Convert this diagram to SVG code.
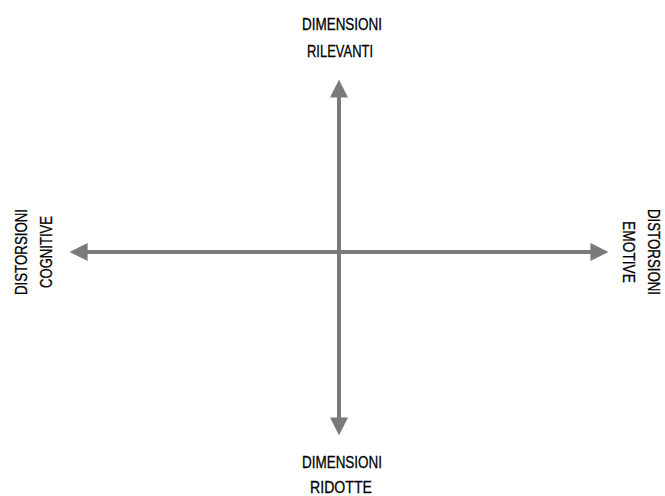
<svg xmlns="http://www.w3.org/2000/svg" width="665" height="496" viewBox="0 0 665 496">
<defs>
<style>
.ax{stroke:#7a7a7a;stroke-width:4;fill:none}
.lb{font-family:"Liberation Sans",Arial,sans-serif;font-size:17px;fill:#000;stroke:#000;stroke-width:0.3;text-anchor:middle}
</style>
<marker id="ah" viewBox="0 0 10 10" refX="2" refY="5" markerWidth="4.5" markerHeight="4.5" orient="auto" markerUnits="strokeWidth">
<path d="M0,0 L10,5 L0,10 Z" fill="#7a7a7a"/>
</marker>
</defs>
<rect width="665" height="496" fill="#fff"/>
<g id="connectors">
<line class="ax" x1="339" y1="252" x2="339" y2="94" marker-end="url(#ah)"/>
<line class="ax" x1="339" y1="252" x2="339" y2="421" marker-end="url(#ah)"/>
<line class="ax" x1="339" y1="252" x2="84" y2="252" marker-end="url(#ah)"/>
<line class="ax" x1="339" y1="252" x2="594" y2="252" marker-end="url(#ah)"/>
</g>
<g id="top">
<text class="lb" x="342" y="30" textLength="80" lengthAdjust="spacingAndGlyphs">DIMENSIONI</text>
<text class="lb" x="340" y="57" textLength="66" lengthAdjust="spacingAndGlyphs">RILEVANTI</text>
</g>
<g id="bottom">
<text class="lb" x="342" y="468" textLength="80" lengthAdjust="spacingAndGlyphs">DIMENSIONI</text>
<text class="lb" x="341" y="493" textLength="62" lengthAdjust="spacingAndGlyphs">RIDOTTE</text>
</g>
<g id="left">
<text class="lb" transform="translate(27,252) rotate(-90)" textLength="86" lengthAdjust="spacingAndGlyphs">DISTORSIONI</text>
<text class="lb" transform="translate(52,252) rotate(-90)" textLength="72" lengthAdjust="spacingAndGlyphs">COGNITIVE</text>
</g>
<g id="right">
<text class="lb" transform="translate(648,252) rotate(90)" textLength="86" lengthAdjust="spacingAndGlyphs">DISTORSIONI</text>
<text class="lb" transform="translate(623,252) rotate(90)" textLength="62" lengthAdjust="spacingAndGlyphs">EMOTIVE</text>
</g>
</svg>
